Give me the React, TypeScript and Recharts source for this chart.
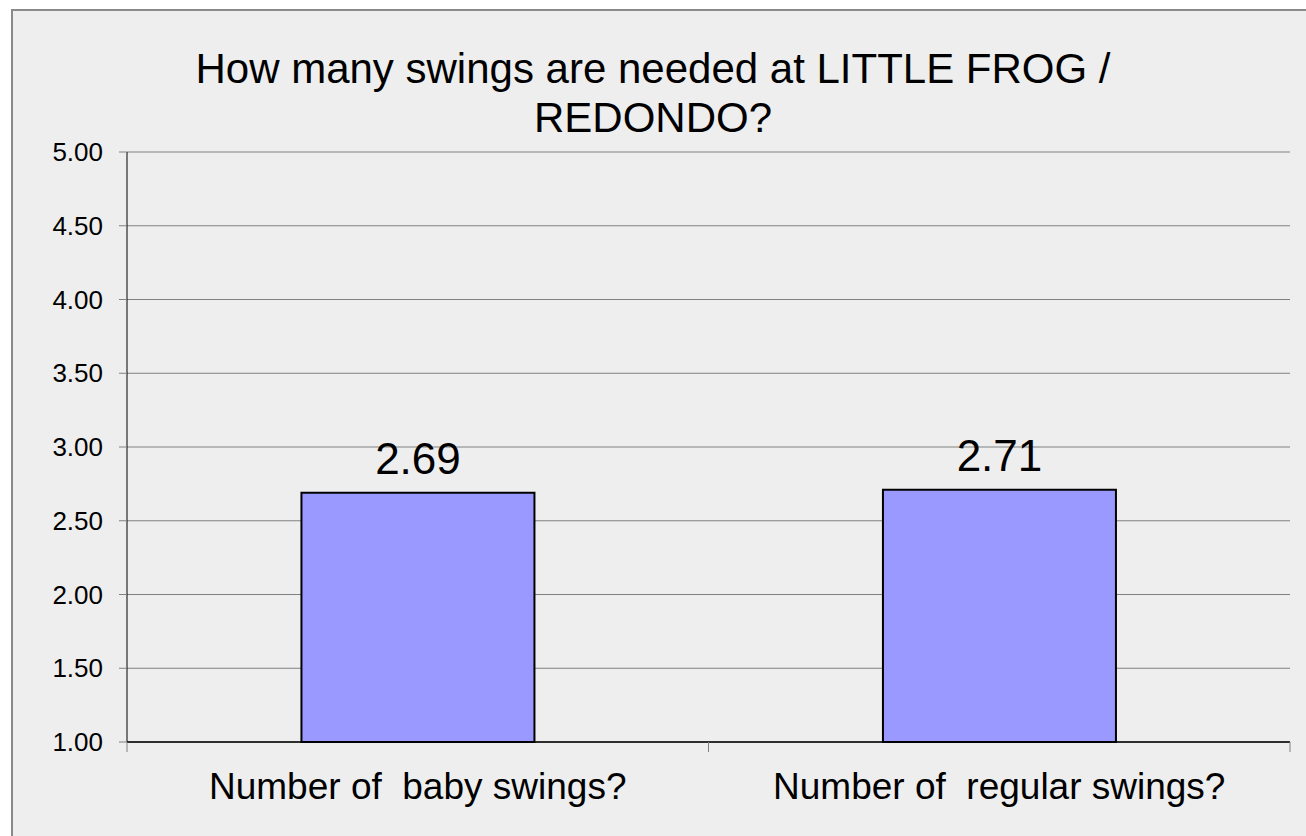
import React from 'react';
import {
  BarChart,
  Bar,
  XAxis,
  YAxis,
  CartesianGrid,
  LabelList,
} from 'recharts';

const categories = ['Number of  baby swings?', 'Number of  regular swings?'];
const averages = [2.69, 2.71];
const yTicks = [1, 1.5, 2, 2.5, 3, 3.5, 4, 4.5, 5];

const data = categories.map((name, i) => ({ name, value: averages[i] }));

const FONT = '"Liberation Sans", Arial, sans-serif';
const CHART_W = 1300;
const CHART_H = 830;
const MARGIN = { top: 143, right: 21, left: 16, bottom: 27 };
const Y_AXIS_W = 100;
const HALF_BAND =
  (CHART_W - MARGIN.left - MARGIN.right - Y_AXIS_W) / categories.length / 2;

const CategoryTick = (props: any) => {
  const { x, y, payload, index } = props;
  return (
    <g>
      <line x1={x - HALF_BAND} x2={x - HALF_BAND} y1={y} y2={y + 10} stroke="#808080" />
      {index === categories.length - 1 && (
        <line x1={x + HALF_BAND} x2={x + HALF_BAND} y1={y} y2={y + 10} stroke="#808080" />
      )}
      <text
        x={x}
        y={y + 57}
        textAnchor="middle"
        fontSize={37}
        fill="#000"
        fontFamily={FONT}
        style={{ whiteSpace: 'pre' }}
      >
        {payload.value}
      </text>
    </g>
  );
};

export default function App() {
  return (
    <div
      style={{
        position: 'absolute',
        left: 11,
        top: 9,
        width: CHART_W,
        height: CHART_H,
        background: '#eeeeee',
        borderTop: '2px solid #8a8a8a',
        borderLeft: '2px solid #8a8a8a',
        boxSizing: 'border-box',
        fontFamily: FONT,
      }}
    >
      <div
        style={{
          position: 'absolute',
          left: 0,
          top: 33,
          width: 1280,
          textAlign: 'center',
          fontSize: 42,
          lineHeight: '49px',
          color: '#000',
        }}
      >
        How many swings are needed at LITTLE FROG /
        <br />
        REDONDO?
      </div>
      <div style={{ position: 'absolute', left: -2, top: -2 }}>
        <BarChart
          width={CHART_W}
          height={CHART_H}
          data={data}
          margin={MARGIN}
          barCategoryGap="30%"
        >
          <CartesianGrid horizontal vertical={false} stroke="#808080" strokeWidth={1} />
          <XAxis
            dataKey="name"
            height={70}
            axisLine={{ stroke: '#000', strokeWidth: 1.5 }}
            tickLine={false}
            tickSize={0}
            tickMargin={0}
            tick={<CategoryTick />}
            interval={0}
          />
          <YAxis
            type="number"
            domain={[1, 5]}
            ticks={yTicks}
            width={Y_AXIS_W}
            interval={0}
            axisLine={{ stroke: '#000', strokeWidth: 1 }}
            tickLine={{ stroke: '#808080' }}
            tickSize={8}
            tickMargin={16}
            tickFormatter={(v: number) => v.toFixed(2)}
            tick={{ fontSize: 26, fill: '#000', fontFamily: FONT }}
          />
          <Bar
            dataKey="value"
            fill="#9999ff"
            stroke="#000"
            strokeWidth={2}
            isAnimationActive={false}
          >
            <LabelList
              dataKey="value"
              position="top"
              offset={19}
              formatter={(v: any) => Number(v).toFixed(2)}
              style={{ fontSize: 44, fill: '#000', fontFamily: FONT }}
            />
          </Bar>
        </BarChart>
      </div>
    </div>
  );
}
